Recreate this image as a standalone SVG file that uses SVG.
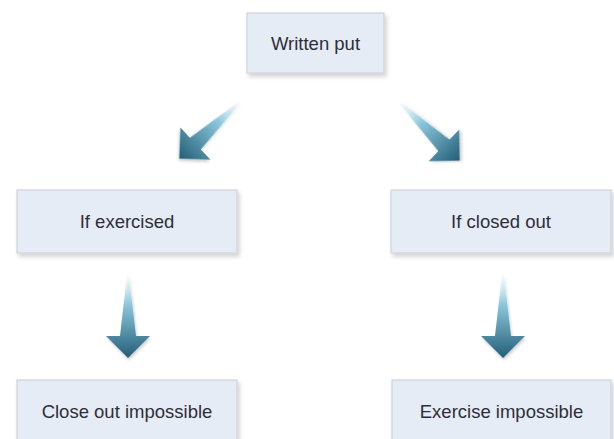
<svg xmlns="http://www.w3.org/2000/svg" width="614" height="439" viewBox="0 0 614 439">
<defs>
<linearGradient id="ag" x1="0" y1="0" x2="0" y2="1">
<stop offset="0" stop-color="#e6f6fb" stop-opacity="0.3"/>
<stop offset="0.35" stop-color="#8cc8dc"/>
<stop offset="1" stop-color="#235e78"/>
</linearGradient>
<filter id="sh" x="-10%" y="-10%" width="125%" height="130%">
<feDropShadow dx="2" dy="3" stdDeviation="2" flood-color="#000" flood-opacity="0.18"/>
</filter>
<filter id="ash" x="-30%" y="-30%" width="160%" height="160%">
<feDropShadow dx="1" dy="2" stdDeviation="1.5" flood-color="#000" flood-opacity="0.2"/>
</filter>
<polygon id="arrow" points="-1,0 1,0 8,61 22,61 0,83 -22,61 -8,61"/>
</defs>
<style>
.box{fill:#e6ecf5;stroke:#cfd3d8;stroke-width:1.2;filter:url(#sh)}
.lbl{font-family:"Liberation Sans",Arial,sans-serif;font-size:18.5px;fill:#2e2e38;text-anchor:middle;dominant-baseline:central}
.arr{fill:url(#ag);filter:url(#ash)}
</style>
<rect width="614" height="439" fill="#ffffff"/>
<g id="connectors">
<use href="#arrow" class="arr" transform="translate(240,102) rotate(47)"/>
<use href="#arrow" class="arr" transform="translate(400,103) rotate(-46)"/>
<use href="#arrow" class="arr" transform="translate(128,275)"/>
<use href="#arrow" class="arr" transform="translate(503,275)"/>
</g>
<g id="written-put">
<rect class="box" x="247" y="13" width="137" height="60"/>
<text class="lbl" x="315.5" y="43">Written put</text>
</g>
<g id="if-exercised">
<rect class="box" x="17" y="190" width="220" height="63"/>
<text class="lbl" x="127" y="221">If exercised</text>
</g>
<g id="if-closed-out">
<rect class="box" x="391" y="190" width="220" height="63"/>
<text class="lbl" x="501" y="221">If closed out</text>
</g>
<g id="close-out-impossible">
<rect class="box" x="17" y="380" width="220" height="63"/>
<text class="lbl" x="127" y="411">Close out impossible</text>
</g>
<g id="exercise-impossible">
<rect class="box" x="392" y="380" width="219" height="63"/>
<text class="lbl" x="501.5" y="411">Exercise impossible</text>
</g>
</svg>
